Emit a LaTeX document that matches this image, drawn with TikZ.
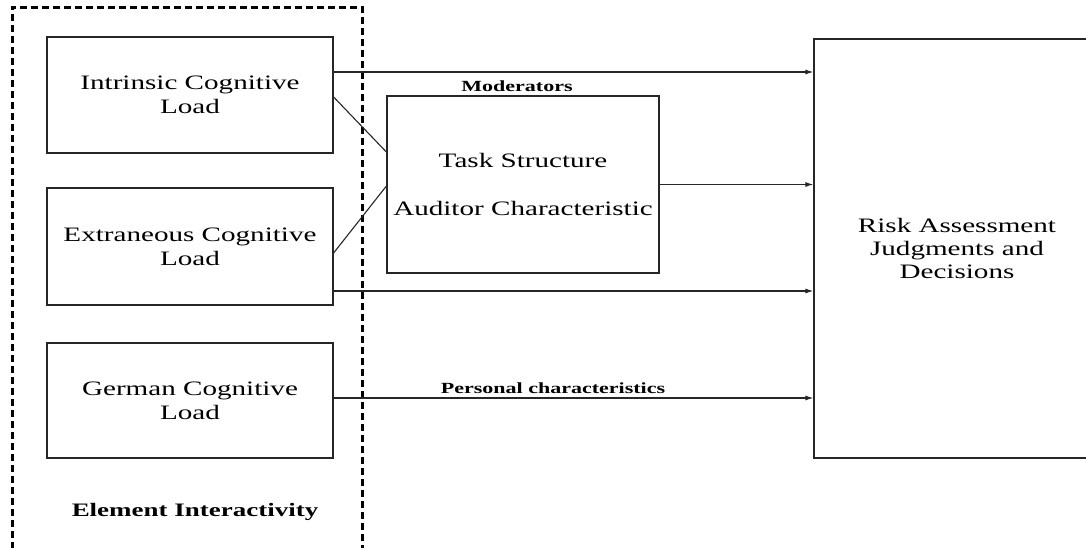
\documentclass[tikz,border=0pt]{standalone}
\usepackage{fontspec}
\setmainfont{Liberation Serif}[FakeStretch=1.42]
\usetikzlibrary{arrows.meta}
\begin{document}
\begin{tikzpicture}[x=1pt,y=-1pt,
  box/.style={draw=black!85, line width=1.2pt, rectangle, align=center, inner sep=0pt,
    font=\fontsize{20.5}{24}\selectfont},
  lbl/.style={font=\fontsize{15.5}{18}\selectfont\bfseries, inner sep=0pt},
  conn/.style={draw=black!85, line width=1.1pt},
  arr/.style={conn, -{Latex[length=8pt,width=5pt]}},
  group/.style={draw=black, line width=3pt, dash pattern=on 7pt off 4pt}]
\useasboundingbox (0,0) rectangle (1086,547);

% element interactivity group, open at the bottom
\draw[group] (12,560) -- (12,7) -- (362,7) -- (362,560);

% cognitive load boxes
\node[box, minimum width=286pt, minimum height=116pt] (b1) at (190,95)
  {Intrinsic Cognitive\\Load};
\node[box, minimum width=286pt, minimum height=117pt] (b2) at (190,246.5)
  {Extraneous Cognitive\\Load};
\node[box, minimum width=286pt, minimum height=115pt] (b3) at (190,400.5)
  {German Cognitive\\Load};

% moderators box
\node[box, minimum width=272pt, minimum height=177pt] (task) at (523,184.5)
  {Task Structure\\[24pt]Auditor Characteristic};

% outcome box
\node[box, minimum width=286pt, minimum height=419pt,
  font=\fontsize{20.5}{23}\selectfont] (risk) at (957,248.5)
  {Risk Assessment\\Judgments and\\Decisions};

% labels
\node[lbl] (mod) at (517,86) {Moderators};
\node[lbl] (pers) at (553,388) {Personal characteristics};
\node[lbl, font=\fontsize{19}{22}\selectfont\bfseries] (elem) at (195,512) {Element Interactivity};

% arrow start points
\coordinate (a1) at ([yshift=23pt]b1.east);
\coordinate (a3) at ([yshift=-44.5pt]b2.east);
\coordinate (a4) at ([yshift=2.5pt]b3.east);

\draw[arr] (a1) -- (a1 -| risk.west);
\draw[arr] (task.east) -- (task.east -| risk.west);
\draw[arr] (a3) -- (a3 -| risk.west);
\draw[arr] (a4) -- (a4 -| risk.west);

% links into the moderators box
\draw[conn] ([yshift=-2pt]b1.east) -- ([yshift=32.5pt]task.west);
\draw[conn] ([yshift=-6.5pt]b2.east) -- ([yshift=-1.5pt]task.west);
\end{tikzpicture}
\end{document}
